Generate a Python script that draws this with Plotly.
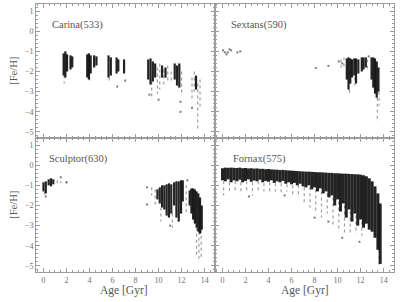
import plotly.graph_objects as go

# ---------------- data ----------------
# Each panel: dense "core" columns (age, top [Fe/H], bottom [Fe/H]),
# sparse "halo" columns, and isolated stars.

carina_core_age = [1.75, 1.9, 2.05, 2.35, 2.5, 3.8, 3.95, 4.1, 4.4, 4.6, 5.65, 5.85, 6.35, 6.5, 7.0,
                   9.1, 9.3, 9.5, 9.7, 10.3, 10.6, 11.4, 11.6, 11.8, 13.25]
carina_core_hi = [-1.1, -1.0, -1.15, -1.2, -1.25, -1.15, -1.1, -1.2, -1.2, -1.25, -1.2, -1.3, -1.3, -1.4, -1.4,
                  -1.4, -1.35, -1.5, -1.6, -1.7, -1.8, -1.6, -1.7, -1.6, -2.2]
carina_core_lo = [-2.2, -2.3, -2.0, -1.9, -1.8, -2.3, -2.4, -2.1, -1.8, -1.7, -2.3, -2.2, -2.1, -2.0, -2.1,
                  -2.4, -2.65, -2.5, -2.3, -2.3, -2.3, -2.4, -2.7, -2.8, -2.9]
carina_halo_age = [1.8, 4.0, 5.7, 9.4, 9.9, 10.1, 10.45, 10.8, 11.1, 12.0, 12.9, 13.1, 13.4, 13.6]
carina_halo_hi = [-2.2, -2.3, -2.3, -2.5, -1.8, -1.6, -1.9, -1.7, -2.0, -2.0, -2.3, -2.0, -2.6, -2.4]
carina_halo_lo = [-2.6, -2.55, -2.6, -3.4, -3.1, -2.9, -2.8, -2.5, -2.5, -3.2, -3.5, -3.0, -4.9, -3.8]
carina_star_age = [6.4, 7.1, 11.9, 11.9, 10.0, 12.9, 9.2]
carina_star_feh = [-2.75, -2.45, -3.5, -4.0, -3.4, -3.8, -3.15]

sextans_core_age = [10.8, 10.95, 11.1, 11.25, 11.45, 11.6, 11.8, 12.1, 12.25, 12.45, 12.95, 13.1, 13.25, 13.4, 13.55]
sextans_core_hi = [-1.35, -1.3, -1.35, -1.4, -1.35, -1.35, -1.4, -1.3, -1.3, -1.3, -1.3, -1.3, -1.35, -1.5, -1.8]
sextans_core_lo = [-2.4, -2.9, -2.6, -2.3, -2.2, -2.6, -2.1, -2.0, -1.9, -1.8, -2.4, -2.8, -3.1, -3.3, -3.0]
sextans_halo_age = [10.3, 10.55, 11.05, 11.5, 12.6, 13.45, 13.6]
sextans_halo_hi = [-1.4, -1.3, -2.9, -2.3, -1.4, -3.3, -3.0]
sextans_halo_lo = [-1.8, -1.9, -3.1, -2.7, -2.0, -4.5, -3.7]
sextans_star_age = [0.05, 0.2, 0.35, 0.45, 0.6, 0.75, 1.3, 1.55, 8.1, 9.2, 10.1, 10.4, 12.7]
sextans_star_feh = [-0.95, -1.05, -1.15, -1.05, -0.9, -0.95, -1.05, -1.0, -1.83, -1.72, -1.5, -1.6, -1.25]

sculptor_core_age = [0.0, 0.2, 0.45, 0.65, 0.85,
                     9.9, 10.1, 10.3, 10.5, 10.7, 10.9, 11.1,
                     11.35, 11.55, 11.75, 11.95, 12.1,
                     12.7, 12.85, 13.0, 13.15, 13.3, 13.45, 13.6, 13.75]
sculptor_core_hi = [-0.85, -0.8, -0.7, -0.65, -0.7,
                    -1.2, -1.1, -1.0, -1.0, -0.95, -0.9, -0.95,
                    -0.85, -0.8, -0.8, -0.75, -0.75,
                    -1.25, -1.15, -1.15, -1.2, -1.3, -1.4, -1.6, -2.0]
sculptor_core_lo = [-1.3, -1.4, -1.0, -1.05, -0.95,
                    -1.7, -1.9, -2.1, -2.2, -2.5, -2.6, -2.4,
                    -2.0, -2.6, -2.8, -2.4, -1.8,
                    -2.0, -2.4, -2.7, -2.9, -3.1, -3.3, -3.4, -3.2]
sculptor_halo_age = [0.1, 1.2, 1.5, 2.0, 9.4, 9.7, 10.2, 11.2, 12.4, 13.3, 13.5, 13.7]
sculptor_halo_hi = [-1.3, -0.75, -0.8, -0.8, -1.1, -1.2, -2.1, -2.4, -1.0, -3.1, -3.3, -3.2]
sculptor_halo_lo = [-1.5, -0.95, -0.9, -0.9, -1.5, -2.0, -2.8, -3.1, -2.5, -4.5, -4.8, -4.6]
sculptor_star_age = [9.0, 9.0, 11.0, 12.5, 1.5, 2.0, 0.2]
sculptor_star_feh = [-1.1, -1.95, -3.0, -0.75, -0.6, -0.85, -1.55]

fornax_core_age = [0.0, 0.25, 0.5, 0.75, 1.0, 1.25, 1.5, 1.75, 2.0, 2.25, 2.5, 2.75, 3.0, 3.25, 3.5, 3.75,
                   4.0, 4.25, 4.5, 4.75, 5.0, 5.25, 5.5, 5.75, 6.0, 6.25, 6.5, 6.75, 7.0, 7.25, 7.5, 7.75,
                   8.0, 8.25, 8.5, 8.75, 9.0, 9.25, 9.5, 9.75, 10.0, 10.25, 10.5, 10.75, 11.0, 11.25, 11.5,
                   11.75, 12.0, 12.25, 12.5, 12.75, 13.0, 13.25, 13.5, 13.7]
fornax_core_hi = [-0.15, -0.12, -0.13, -0.12, -0.13, -0.14, -0.12, -0.15, -0.14, -0.16, -0.15, -0.17, -0.16,
                  -0.18, -0.18, -0.2, -0.19, -0.21, -0.22, -0.22, -0.24, -0.23, -0.25, -0.26, -0.27, -0.28,
                  -0.29, -0.3, -0.31, -0.32, -0.32, -0.33, -0.34, -0.35, -0.35, -0.36, -0.37, -0.38, -0.38,
                  -0.4, -0.4, -0.41, -0.42, -0.42, -0.43, -0.44, -0.45, -0.45, -0.47, -0.5, -0.55, -0.65,
                  -0.8, -1.05, -1.4, -1.9]
fornax_core_lo = [-0.75, -0.8, -0.7, -0.85, -0.75, -0.8, -0.72, -0.85, -0.78, -0.7, -0.82, -0.76, -0.8,
                  -0.72, -0.85, -0.78, -0.82, -0.75, -0.88, -0.8, -0.85, -0.78, -0.92, -0.85, -0.95, -0.88,
                  -1.0, -0.92, -1.05, -1.1, -1.0, -1.2, -1.1, -1.3, -1.15, -1.4, -1.3, -1.6, -1.5, -2.0,
                  -1.7, -2.3, -1.9, -2.6, -2.2, -2.8, -2.4, -3.0, -2.7, -3.1, -2.9, -3.2, -3.3, -3.6,
                  -4.2, -4.9]
fornax_halo_age = [0.1, 0.6, 1.1, 1.6, 2.1, 2.6, 3.1, 3.6, 4.1, 4.6, 5.1, 5.6, 6.1, 6.6, 7.1, 7.6, 8.1,
                   8.6, 9.1, 9.6, 10.1, 10.6, 11.1, 11.6, 12.1, 13.6]
fornax_halo_hi = [-0.8, -0.85, -0.8, -0.85, -0.8, -0.85, -0.8, -0.9, -0.85, -0.9, -0.9, -0.95, -1.0,
                  -1.0, -1.1, -1.1, -1.2, -1.3, -1.4, -1.6, -1.8, -2.0, -2.3, -2.5, -2.8, -4.2]
fornax_halo_lo = [-1.5, -1.4, -1.3, -1.45, -1.3, -1.5, -1.35, -1.3, -1.4, -1.3, -1.45, -1.3, -1.5,
                  -1.6, -1.9, -2.1, -2.3, -2.6, -2.4, -3.0, -3.3, -3.4, -3.5, -3.4, -3.5, -5.0]
fornax_star_age = [8.0, 9.2, 10.4, 11.9, 2.3, 5.4]
fornax_star_feh = [-2.6, -2.8, -3.6, -3.8, -1.55, -1.5]

panel_names = ["Carina(533)", "Sextans(590)", "Sculptor(630)", "Fornax(575)"]
x_ticks = [0, 2, 4, 6, 8, 10, 12, 14]
y_ticks = [1, 0, -1, -2, -3, -4, -5]

panels = [
    (carina_core_age, carina_core_hi, carina_core_lo, carina_halo_age, carina_halo_hi, carina_halo_lo,
     carina_star_age, carina_star_feh),
    (sextans_core_age, sextans_core_hi, sextans_core_lo, sextans_halo_age, sextans_halo_hi, sextans_halo_lo,
     sextans_star_age, sextans_star_feh),
    (sculptor_core_age, sculptor_core_hi, sculptor_core_lo, sculptor_halo_age, sculptor_halo_hi,
     sculptor_halo_lo, sculptor_star_age, sculptor_star_feh),
    (fornax_core_age, fornax_core_hi, fornax_core_lo, fornax_halo_age, fornax_halo_hi, fornax_halo_lo,
     fornax_star_age, fornax_star_feh),
]


def segments(ages, his, los):
    xs, ys = [], []
    for a, h, l in zip(ages, his, los):
        xs += [a, a, None]
        ys += [h, l, None]
    return xs, ys


fig = go.Figure()
core_width = [2.2, 2.2, 2.2, 3.0]
for i, (ca, ch, cl, ha, hh, hl, sa, sf) in enumerate(panels):
    xr = "x" if i == 0 else f"x{i+1}"
    yr = "y" if i == 0 else f"y{i+1}"
    hx, hy = segments(ha, hh, hl)
    fig.add_trace(go.Scatter(x=hx, y=hy, mode="lines", xaxis=xr, yaxis=yr,
                             line=dict(color="rgba(40,40,40,0.45)", width=1.2, dash="dot"),
                             hoverinfo="skip", showlegend=False))
    cx, cy = segments(ca, ch, cl)
    fig.add_trace(go.Scatter(x=cx, y=cy, mode="lines", xaxis=xr, yaxis=yr,
                             line=dict(color="rgba(5,5,5,0.88)", width=core_width[i]),
                             hoverinfo="skip", showlegend=False))
    fig.add_trace(go.Scatter(x=sa, y=sf, mode="markers", xaxis=xr, yaxis=yr,
                             marker=dict(color="rgba(40,40,40,0.6)", size=2, symbol="square"),
                             hoverinfo="skip", showlegend=False))

axis_color = "#9c9c9c"
serif = "Liberation Serif"
tick_font = dict(family=serif, size=8, color="#707070")
common = dict(showline=True, linecolor=axis_color, linewidth=1, mirror="ticks",
              ticks="inside", ticklen=4, tickcolor=axis_color, tickwidth=1,
              showgrid=False, zeroline=False, tickfont=tick_font)

domains_x = [[0, 0.5], [0.5, 1], [0, 0.5], [0.5, 1]]
domains_y = [[0.5, 1], [0.5, 1], [0, 0.5], [0, 0.5]]
layout = {}
for i in range(4):
    xn = "xaxis" if i == 0 else f"xaxis{i+1}"
    yn = "yaxis" if i == 0 else f"yaxis{i+1}"
    ya = "y" if i == 0 else f"y{i+1}"
    xa = "x" if i == 0 else f"x{i+1}"
    layout[xn] = dict(common, domain=domains_x[i], anchor=ya, range=[-0.65, 14.9],
                      tickvals=x_ticks, showticklabels=(i >= 2),
                      minor=dict(ticks="inside", ticklen=2, dtick=0.5, tickcolor=axis_color))
    layout[yn] = dict(common, domain=domains_y[i], anchor=xa, range=[-5.3, 1.35],
                      tickvals=y_ticks, showticklabels=(i % 2 == 0),
                      minor=dict(ticks="inside", ticklen=2, dtick=0.2, tickcolor=axis_color))

fig.update_layout(**layout)

title_font = dict(family=serif, size=10.5, color="#555555")
label_font = dict(family=serif, size=11.5, color="#555555")
name_pos = [(0.04, 0.92), (0.54, 0.92), (0.03, 0.42), (0.545, 0.42)]
ann = []
for (px, py), name in zip(name_pos, panel_names):
    ann.append(dict(text=name, x=px, y=py, xref="paper", yref="paper", xanchor="left",
                    yanchor="middle", showarrow=False, font=title_font))
for yy in [0.75, 0.25]:
    ann.append(dict(text="[Fe/H]", x=-0.065, y=yy, xref="paper", yref="paper", textangle=-90,
                    xanchor="center", yanchor="middle", showarrow=False, font=title_font))
for xx in [0.245, 0.75]:
    ann.append(dict(text="Age [Gyr]", x=xx, y=-0.07, xref="paper", yref="paper",
                    xanchor="center", yanchor="middle", showarrow=False, font=label_font))

fig.update_layout(annotations=ann, width=402, height=302,
                  margin=dict(l=36, r=8, t=4, b=30),
                  paper_bgcolor="white", plot_bgcolor="white", showlegend=False)

fig.write_html("out.html", config={"displayModeBar": False},
               post_script="document.body.style.margin='0';document.body.style.overflow='hidden';")
